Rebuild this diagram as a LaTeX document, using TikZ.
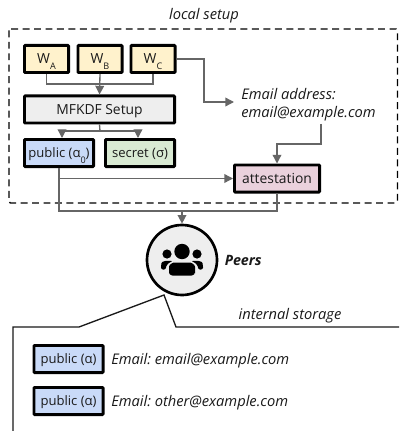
\documentclass[tikz,border=0pt]{standalone}
\usepackage{fontspec}
\setmainfont{Open Sans}
\usetikzlibrary{arrows.meta,calc}
\definecolor{inkc}{HTML}{1A1A1A}
\definecolor{linec}{HTML}{666666}
\definecolor{yel}{HTML}{FFF2CC}
\definecolor{gry}{HTML}{EEEEEE}
\definecolor{blu}{HTML}{C9DAF8}
\definecolor{grn}{HTML}{D9EAD3}
\definecolor{pnk}{HTML}{EAD1DC}
\newcommand{\subs}[1]{\raisebox{-0.8ex}{\fontsize{6.8pt}{7pt}\selectfont #1}}
\tikzset{
  x=0.75pt,y=-0.75pt,
  every node/.style={font=\fontsize{10.4pt}{13.5pt}\selectfont\frenchspacing,text=inkc,inner sep=0pt},
  box/.style={draw=black,line width=2.1pt,rounded corners=0.6pt,inner sep=0pt,text height=7.4pt,text depth=0pt},
  wire/.style={draw=linec,line width=1pt},
  arr/.style={wire,-{Triangle[length=6.5pt,width=6.5pt]}},
  callout/.style={draw=inkc,line width=1pt},
  note/.style={font=\fontsize{11pt}{13.3pt}\selectfont\itshape\frenchspacing,align=left},
  oneline/.style={font=\fontsize{11pt}{13.3pt}\selectfont\itshape\frenchspacing,text height=7.6pt,text depth=0pt},
}
\newcommand{\boxat}[7]{\node[box,fill=#6,minimum width=#4*0.75pt-2.1pt,minimum height=#5*0.75pt-2.1pt] (#1) at (#2,#3) {#7};}
\begin{document}
\begin{tikzpicture}
\useasboundingbox (0,0) rectangle (399,431);
\fill[white] (0,0) rectangle (399,431);
\draw[line width=1pt,dash pattern=on 5.2pt off 3.4pt,rounded corners=1pt] (9,29) rectangle (397.5,203);
\node (lbl) at (204,14) [oneline] {local setup};
\boxat{wa}{46.5}{59}{47}{30}{yel}{W\subs{A}}
\boxat{wb}{100}{59}{47}{30}{yel}{W\subs{B}}
\boxat{wc}{153}{59}{47}{30}{yel}{W\subs{C}}
\boxat{mf}{99.5}{109.5}{153}{30}{gry}{MFKDF Setup}
\boxat{pub}{59}{153}{72}{30}{blu}{\fontsize{9.8pt}{12pt}\selectfont public (α\subs{0})}
\boxat{sec}{140}{153}{72}{30}{grn}{\fontsize{9.8pt}{12pt}\selectfont secret (σ)}
\boxat{att}{277}{178.5}{88}{30}{pnk}{attestation}
\node[note,anchor=west] (mail) at (241,104.5) {Email address:\\email@example.com};
\coordinate (wjoin) at (100,84);
\coordinate (mjoin) at (100,131);
\coordinate (pubin) at (62,138);
\coordinate (secin) at (138,138);
\coordinate (wbend) at (204,59);
\coordinate (mailin) at (234,102);
\coordinate (mailout) at (321,124);
\coordinate (pubout) at (59,168);
\coordinate (attout) at (277,193);
\coordinate (busy) at (182,211);
\draw[wire] (wa.south) |- (wjoin) -| (wc.south);
\draw[arr] (wb.south) -- (mf.north);
\draw[wire] (mf.south) -- (mjoin);
\draw[arr] (mjoin) -| (pubin);
\draw[arr] (mjoin) -| (secin);
\draw[arr] (wc.east) -- (wbend) |- (mailin);
\draw[arr] (mailout) -- (321,144) -| (att.north);
\draw[arr] (pubout) |- (att.west);
\draw[wire] (pubout) |- (busy) -| (attout);
\node[circle,draw=black,line width=2pt,fill=gry,minimum size=52.5pt] (peers) at (182,260) {};
\draw[arr] (busy) -- (peers.north);
\node[font=\fontsize{10.7pt}{13.5pt}\selectfont\bfseries\itshape,text height=7.6pt,text depth=0pt,anchor=west] (plab) at (224.5,260) {Peers};
% users icon
\fill[black] (182,251.5) circle[radius=7.7];
\fill[black] (167,254) circle[radius=4.6];
\fill[black] (197,254) circle[radius=4.6];
\fill[black,rounded corners=2.5pt] (169,275.5) -- (169,270) .. controls (169,264) and (174,262.5) .. (177,262.5) -- (187,262.5) .. controls (190,262.5) and (195,264) .. (195,270) -- (195,275.5) -- cycle;
\fill[black,rounded corners=1.5pt] (161,269.5) -- (161,265) .. controls (162,261) and (167,260.5) .. (173,261) .. controls (168,263) and (166,266) .. (166,269.5) -- cycle;
\fill[black,rounded corners=1.5pt] (203,269.5) -- (203,265) .. controls (202,261) and (197,260.5) .. (191,261) .. controls (196,263) and (198,266) .. (198,269.5) -- cycle;
% callout
\coordinate (tip) at (164,295);
\draw[callout,line join=miter] (13,431) -- (13,327) -- (79,327) -- (tip) -- (176,327) -- (399,327);
\node[oneline] (intl) at (290,314) {internal storage};
\boxat{p1}{68.5}{359}{72}{30}{blu}{\fontsize{9.8pt}{12pt}\selectfont public (α)}
\boxat{p2}{68.5}{401}{72}{30}{blu}{\fontsize{9.8pt}{12pt}\selectfont public (α)}
\node[oneline,anchor=west] (e1) at (111,359) {Email: email@example.com};
\node[oneline,anchor=west] (e2) at (111,401) {Email: other@example.com};
\end{tikzpicture}
\end{document}
